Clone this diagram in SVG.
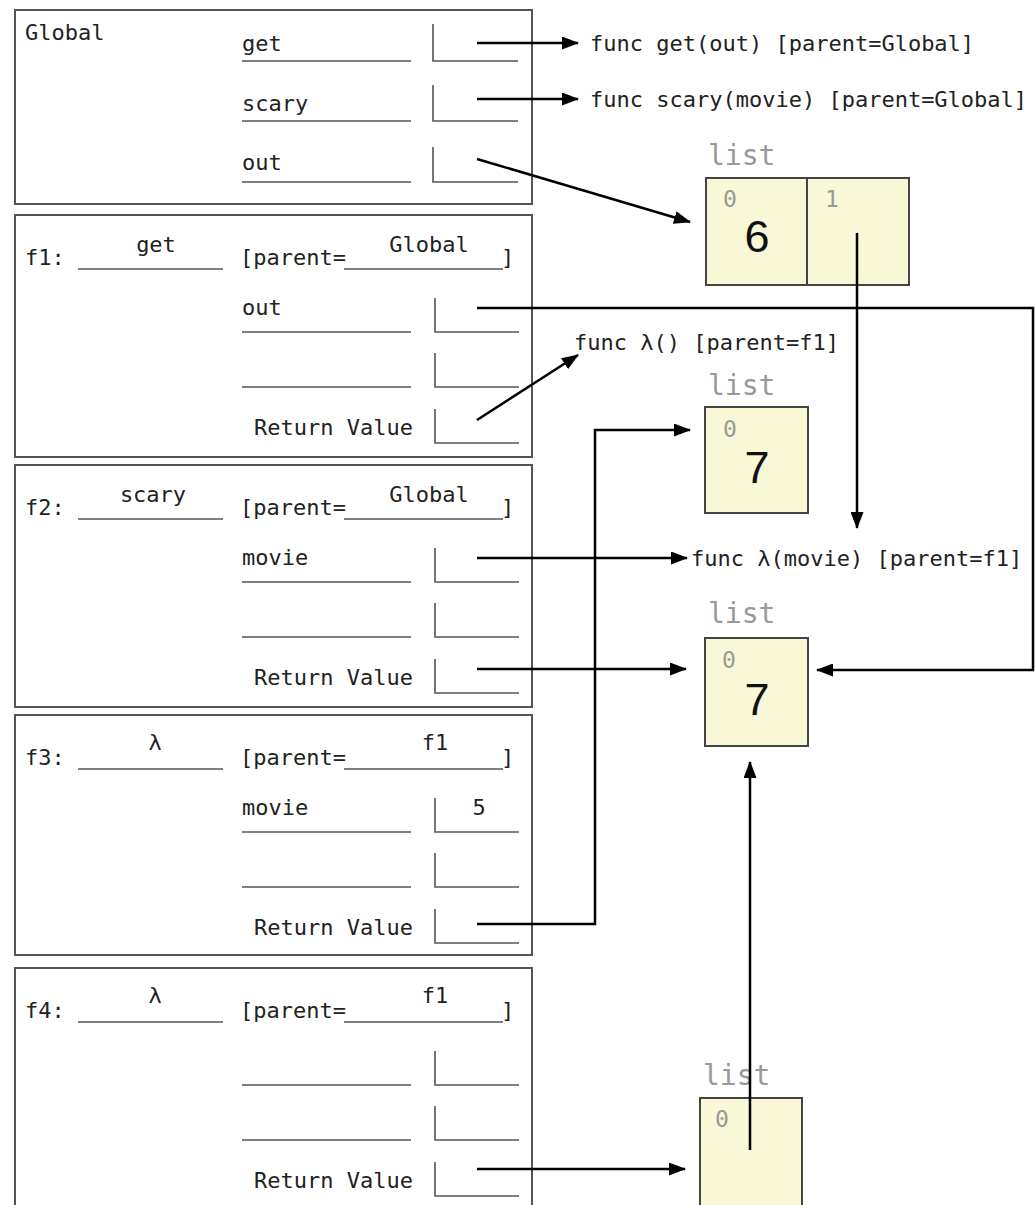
<svg xmlns="http://www.w3.org/2000/svg" width="1035" height="1205" viewBox="0 0 1035 1205">
<defs>
<style>
.frame{fill:#fff;stroke:#555;stroke-width:2}
.t{font-family:"DejaVu Sans Mono","Liberation Mono",monospace;font-size:22px;fill:#222}
.f{font-family:"DejaVu Sans Mono","Liberation Mono",monospace;font-size:22px;fill:#222}
.ln{fill:none;stroke:#555;stroke-width:1.6}
.lab{font-family:"DejaVu Sans Mono","Liberation Mono",monospace;font-size:28px;fill:#999}
.idx{font-family:"DejaVu Sans Mono","Liberation Mono",monospace;font-size:23px;fill:#999}
.big{font-family:"Liberation Sans","DejaVu Sans",sans-serif;font-size:45px;fill:#111}
.box{fill:#f8f8d6;stroke:#444;stroke-width:2}
.c{fill:none;stroke:#000;stroke-width:2.5}
.a{marker-end:url(#ah)}
</style>
<marker id="ah" markerUnits="userSpaceOnUse" markerWidth="17" markerHeight="13" refX="16" refY="6.5" orient="auto">
<path d="M0,0 L17,6.5 L0,13 z" fill="#000"/>
</marker>
</defs>
<rect width="1035" height="1205" fill="#fff"/>

<g id="global">
<rect class="frame" x="15" y="10" width="517" height="194"/>
<text class="t" x="25" y="40">Global</text>
<text class="t" x="242" y="51">get</text>
<path class="ln" d="M242,61 H411 M433,24 V61 H518"/>
<text class="t" x="242" y="111">scary</text>
<path class="ln" d="M242,121 H411 M433,85 V121 H518"/>
<text class="t" x="242" y="170">out</text>
<path class="ln" d="M242,182 H411 M433,147 V182 H518"/>
</g>

<g id="f1" transform="translate(0,215)">
<rect class="frame" x="15" y="0" width="517" height="242"/>
<text class="t" x="25" y="50">f1:</text>
<text class="t" x="156" y="37" text-anchor="middle">get</text>
<text class="t" x="240" y="50">[parent=</text>
<text class="t" x="429" y="37" text-anchor="middle">Global</text>
<text class="t" x="501" y="50">]</text>
<path class="ln" d="M78,54 H223 M344,54 H503"/>
<text class="t" x="242" y="100">out</text>
<path class="ln" d="M242,117 H411 M435,83 V117 H519"/>
<path class="ln" d="M242,172 H411 M435,138 V172 H519"/>
<text class="t" x="254" y="220">Return Value</text>
<path class="ln" d="M435,194 V228 H519"/>
</g>

<g id="f2" transform="translate(0,465)">
<rect class="frame" x="15" y="0" width="517" height="242"/>
<text class="t" x="25" y="50">f2:</text>
<text class="t" x="153" y="37" text-anchor="middle">scary</text>
<text class="t" x="240" y="50">[parent=</text>
<text class="t" x="429" y="37" text-anchor="middle">Global</text>
<text class="t" x="501" y="50">]</text>
<path class="ln" d="M78,54 H223 M344,54 H503"/>
<text class="t" x="242" y="100">movie</text>
<path class="ln" d="M242,117 H411 M435,83 V117 H519"/>
<path class="ln" d="M242,172 H411 M435,138 V172 H519"/>
<text class="t" x="254" y="220">Return Value</text>
<path class="ln" d="M435,194 V228 H519"/>
</g>

<g id="f3" transform="translate(0,715)">
<rect class="frame" x="15" y="0" width="517" height="240"/>
<text class="t" x="25" y="50">f3:</text>
<text class="t" x="155" y="35" text-anchor="middle">λ</text>
<text class="t" x="240" y="50">[parent=</text>
<text class="t" x="435" y="35" text-anchor="middle">f1</text>
<text class="t" x="501" y="50">]</text>
<path class="ln" d="M78,54 H223 M344,54 H503"/>
<text class="t" x="242" y="100">movie</text>
<text class="t" x="479" y="100" text-anchor="middle">5</text>
<path class="ln" d="M242,117 H411 M435,83 V117 H519"/>
<path class="ln" d="M242,172 H411 M435,138 V172 H519"/>
<text class="t" x="254" y="220">Return Value</text>
<path class="ln" d="M435,194 V228 H519"/>
</g>

<g id="f4" transform="translate(0,968)">
<rect class="frame" x="15" y="0" width="517" height="250"/>
<text class="t" x="25" y="50">f4:</text>
<text class="t" x="155" y="35" text-anchor="middle">λ</text>
<text class="t" x="240" y="50">[parent=</text>
<text class="t" x="435" y="35" text-anchor="middle">f1</text>
<text class="t" x="501" y="50">]</text>
<path class="ln" d="M78,54 H223 M344,54 H503"/>
<path class="ln" d="M242,117 H411 M435,83 V117 H519"/>
<path class="ln" d="M242,172 H411 M435,138 V172 H519"/>
<text class="t" x="254" y="220">Return Value</text>
<path class="ln" d="M435,194 V228 H519"/>
</g>

<g id="func-get"><text class="f" x="590" y="51">func get(out) [parent=Global]</text></g>
<g id="func-scary"><text class="f" x="590" y="107">func scary(movie) [parent=Global]</text></g>
<g id="func-lambda0"><text class="f" x="574" y="350">func λ() [parent=f1]</text></g>
<g id="func-lambda1"><text class="f" x="691" y="566">func λ(movie) [parent=f1]</text></g>

<g id="list1">
<text class="lab" x="708" y="165">list</text>
<rect class="box" x="706" y="178" width="203" height="107"/>
<line x1="807" y1="178" x2="807" y2="285" stroke="#444" stroke-width="2"/>
<text class="idx" x="723" y="207">0</text>
<text class="idx" x="825" y="207">1</text>
<text class="big" x="757" y="252" text-anchor="middle">6</text>
</g>

<g id="list2">
<text class="lab" x="708" y="395">list</text>
<rect class="box" x="705" y="407" width="103" height="106"/>
<text class="idx" x="723" y="437">0</text>
<text class="big" x="757" y="483" text-anchor="middle">7</text>
</g>

<g id="list3">
<text class="lab" x="708" y="623">list</text>
<rect class="box" x="705" y="638" width="103" height="108"/>
<text class="idx" x="722" y="668">0</text>
<text class="big" x="757" y="715" text-anchor="middle">7</text>
</g>

<g id="list4">
<text class="lab" x="703" y="1085">list</text>
<rect class="box" x="700" y="1098" width="102" height="115"/>
<text class="idx" x="715" y="1127">0</text>
</g>

<g id="connectors">
<path class="c a" d="M477,43 H578"/>
<path class="c a" d="M477,99 H578"/>
<path class="c a" d="M477,159 L690,222"/>
<path class="c a" d="M477,308 H1033 V670 H817"/>
<path class="c a" d="M477,420 L578,355"/>
<path class="c a" d="M857,233 V528"/>
<path class="c a" d="M477,558 H687"/>
<path class="c a" d="M477,669 H686"/>
<path class="c a" d="M477,924 H595 V430 H690"/>
<path class="c a" d="M477,1169 H685"/>
<path class="c a" d="M750,1150 V762"/>
</g>
</svg>
